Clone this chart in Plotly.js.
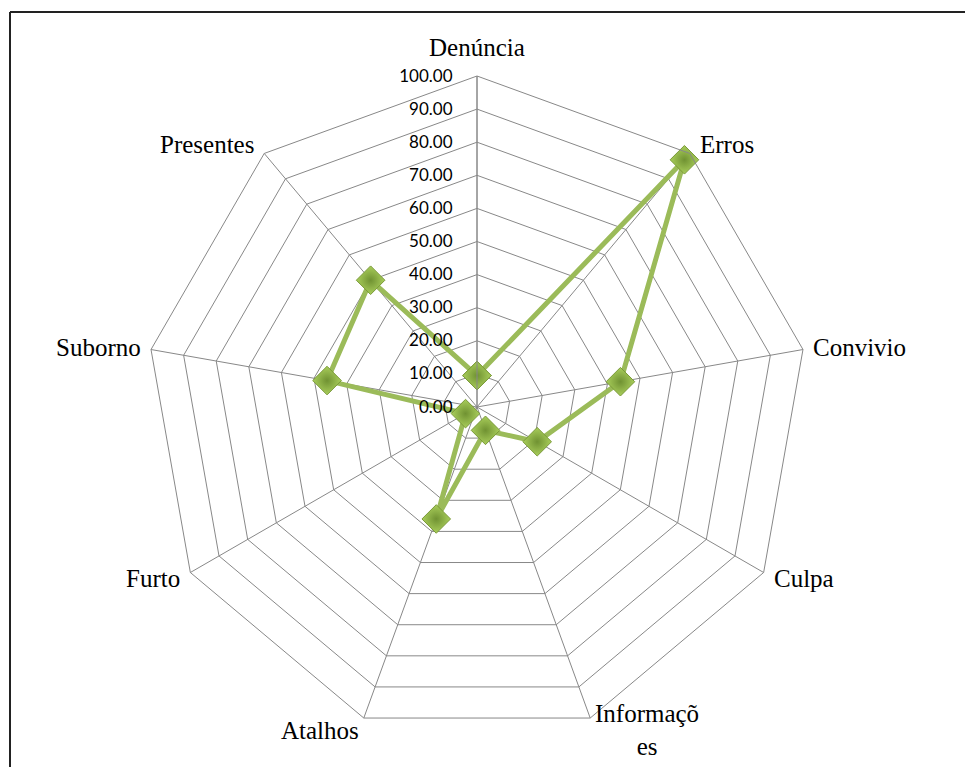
<!DOCTYPE html>
<html>
<head>
<meta charset="utf-8">
<script src="https://cdn.plot.ly/plotly-3.0.1.min.js"></script>
<style>
html,body{margin:0;padding:0;background:#fff;}
#chart{width:965px;height:767px;}
</style>
</head>
<body>
<div id="chart"></div>
<script>
const categories = ["Denúncia", "Erros", "Convivio", "Culpa", "Informações", "Atalhos", "Furto", "Suborno", "Presentes"];
const categoryLabels = ["Denúncia", "Erros", "Convivio", "Culpa", "Informaçõ<br>es", "Atalhos", "Furto", "Suborno", "Presentes"];
const values = [9.5, 97.5, 44, 21, 7.5, 36, 4, 46, 50];
const tickValues = [0, 10, 20, 30, 40, 50, 60, 70, 80, 90, 100];
const tickLabels = ["0.00", "10.00", "20.00", "30.00", "40.00", "50.00", "60.00", "70.00", "80.00", "90.00", "100.00"];

const W = 965, H = 767;
const cx = 477, cy = 407, R = 331;

const trace = {
  type: 'scatterpolar',
  r: values.concat([values[0]]),
  theta: categories.concat([categories[0]]),
  mode: 'lines+markers',
  line: {color: '#9BBB59', width: 5},
  marker: {
    symbol: 'diamond',
    size: 22,
    color: '#A9CE5B',
    gradient: {type: 'radial', color: '#709232'},
    line: {color: '#7A9A38', width: 1}
  },
  hoverinfo: 'r+theta'
};

// category label annotations placed around the outer polygon (layout geometry)
const n = categories.length;
const annotations = categoryLabels.map(function (lab, i) {
  const th = i * 2 * Math.PI / n;
  const s = Math.sin(th), c = Math.cos(th);
  const vx = cx + R * s, vy = cy - R * c;
  let px = vx, py = vy - 12 * c;
  let xa = 'center', ya = 'middle';
  const hx = Math.abs(c) > 0.9 ? 3 : 8;
  if (s > 0.1) { xa = 'left'; px = vx + hx; }
  else if (s < -0.1) { xa = 'right'; px = vx - hx; }
  if (c > 0.9) { ya = 'bottom'; py = vy - 13; }
  else if (c < -0.9) { ya = 'middle'; py = vy + 12; }
  return {
    xref: 'paper', yref: 'paper',
    x: px / W, y: 1 - py / H,
    xanchor: xa, yanchor: ya,
    text: lab, showarrow: false, align: 'center',
    font: {family: 'Liberation Serif, Times New Roman, serif', size: 25, color: '#000'}
  };
});

const layout = {
  width: W, height: H,
  margin: {l: 0, r: 0, t: 0, b: 0},
  paper_bgcolor: '#fff',
  plot_bgcolor: '#fff',
  showlegend: false,
  polar: {
    domain: {
      x: [(cx - R) / W, (cx + R) / W],
      y: [(H - cy - R) / H, (H - cy + R) / H]
    },
    gridshape: 'linear',
    bgcolor: '#fff',
    angularaxis: {
      direction: 'clockwise',
      rotation: 90,
      showline: true,
      linecolor: '#888888',
      linewidth: 1,
      gridcolor: '#888888',
      gridwidth: 1,
      ticks: '',
      showticklabels: false
    },
    radialaxis: {
      range: [0, 100],
      angle: 90,
      tickangle: 90,
      side: 'counterclockwise',
      tickmode: 'array',
      tickvals: tickValues,
      ticktext: tickLabels,
      showline: true,
      linecolor: '#888888',
      linewidth: 1,
      gridcolor: '#888888',
      gridwidth: 1,
      ticks: 'outside',
      ticklen: 18,
      tickcolor: 'rgba(0,0,0,0)',
      tickfont: {family: 'Lato, Carlito, Open Sans, sans-serif', size: 17, color: '#000'}
    }
  },
  annotations: annotations,
  shapes: [
    {type: 'line', xref: 'paper', yref: 'paper', x0: 10 / W, x1: 10 / W, y0: 0, y1: 1 - 12 / H,
     line: {color: '#222', width: 2}},
    {type: 'line', xref: 'paper', yref: 'paper', x0: 10 / W, x1: 1, y0: 1 - 12 / H, y1: 1 - 12 / H,
     line: {color: '#222', width: 2}}
  ]
};

Plotly.newPlot('chart', [trace], layout, {displayModeBar: false, staticPlot: true});
</script>
</body>
</html>
